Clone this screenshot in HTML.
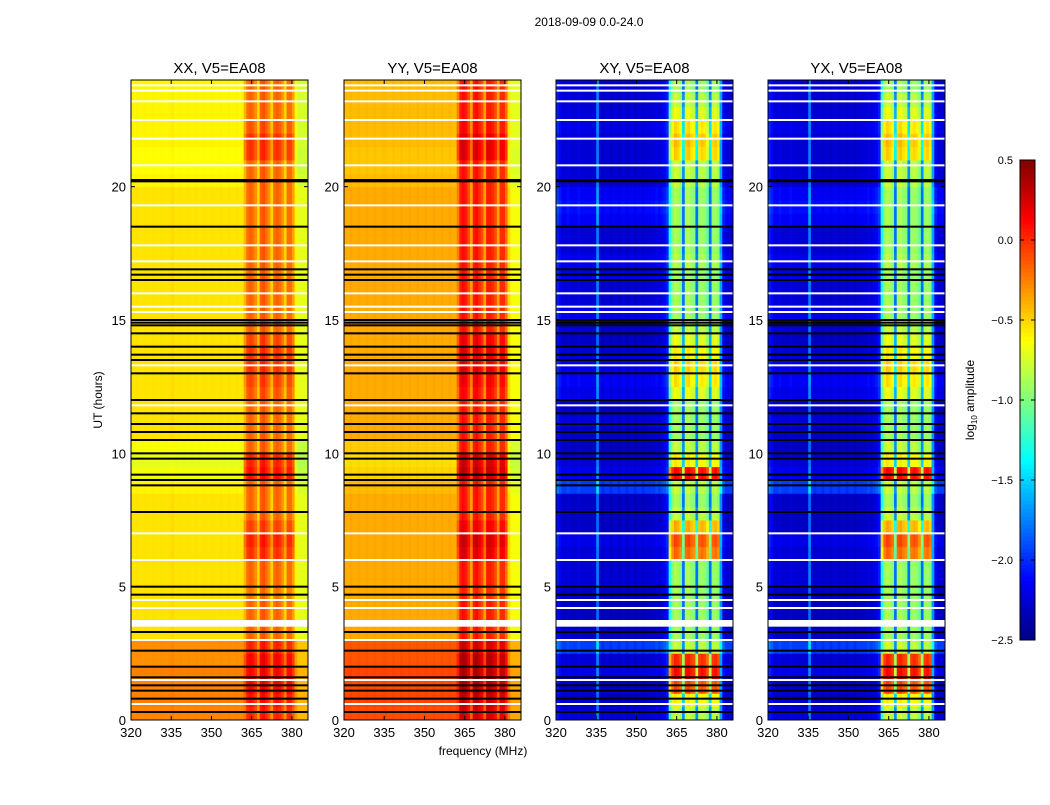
<!DOCTYPE html>
<html><head><meta charset="utf-8"><style>
body{margin:0;background:#fff;}
svg text{font-family:"Liberation Sans","DejaVu Sans",sans-serif;fill:#000;}
</style></head><body>
<svg id="fig" width="1050" height="800" xmlns="http://www.w3.org/2000/svg">
<rect width="1050" height="800" fill="#fff"/>
<text x="589" y="26" font-size="12" text-anchor="middle">2018-09-09 0.0-24.0</text>
<text x="483" y="755" font-size="12" text-anchor="middle">frequency (MHz)</text>
<text transform="translate(102,400) rotate(-90)" font-size="12" text-anchor="middle">UT (hours)</text>
<g id="panels"></g>
<g id="cbar"></g>
</svg>
<script>
// ---- data ----
const panelTitles = ["XX, V5=EA08","YY, V5=EA08","XY, V5=EA08","YX, V5=EA08"];
const xTicks = [320,335,350,365,380];
const yTicks = [0,5,10,15,20];
const cbarTicks = [0.5,0.0,-0.5,-1.0,-1.5,-2.0,-2.5];
// frequency profiles, 1 MHz bins 320..385 (log10 amplitude)
const profXX = [-0.55,-0.55,-0.54,-0.55,-0.55,-0.54,-0.55,-0.55,-0.54,-0.55,-0.55,-0.54,-0.55,-0.55,-0.54,-0.52,-0.55,-0.55,-0.54,-0.55,-0.55,-0.54,-0.55,-0.55,-0.54,-0.55,-0.55,-0.54,-0.55,-0.55,-0.54,-0.55,-0.55,-0.54,-0.55,-0.55,-0.54,-0.55,-0.55,-0.54,-0.55,-0.55,-0.4,-0.2,-0.15,-0.2,-0.3,-0.5,-0.15,-0.1,-0.2,-0.3,-0.5,-0.2,-0.15,-0.2,-0.3,-0.5,-0.2,-0.2,-0.35,-0.6,-0.7,-0.7,-0.7,-0.7];
const profYY = [-0.38,-0.38,-0.36,-0.38,-0.38,-0.36,-0.38,-0.38,-0.36,-0.38,-0.38,-0.36,-0.38,-0.38,-0.36,-0.36,-0.38,-0.38,-0.36,-0.38,-0.38,-0.36,-0.38,-0.38,-0.36,-0.38,-0.38,-0.36,-0.38,-0.38,-0.36,-0.38,-0.38,-0.36,-0.38,-0.38,-0.36,-0.38,-0.38,-0.36,-0.38,-0.38,-0.25,0.05,0.1,0.05,-0.1,-0.35,0.05,0.1,0.0,-0.1,-0.35,0.05,0.05,0.0,-0.1,-0.35,0.0,0.0,-0.2,-0.5,-0.65,-0.65,-0.65,-0.65];
const profXY = [-2.1,-2.2,-2.3,-2.3,-2.25,-2.3,-2.3,-2.3,-2.25,-2.3,-2.3,-2.3,-2.3,-2.3,-2.3,-1.8,-2.3,-2.35,-2.3,-2.3,-2.35,-2.3,-2.3,-2.35,-2.3,-2.3,-2.35,-2.3,-2.3,-2.35,-2.3,-2.3,-2.35,-2.3,-2.3,-2.3,-2.3,-2.25,-2.3,-2.25,-2.2,-2.1,-1.3,-1.0,-0.85,-0.9,-1.0,-1.8,-0.9,-0.85,-0.95,-1.0,-1.8,-0.95,-0.9,-0.95,-1.1,-1.8,-0.95,-0.9,-1.0,-1.7,-2.2,-2.3,-2.3,-2.3];
const profYX = [-2.1,-2.2,-2.3,-2.3,-2.25,-2.3,-2.3,-2.3,-2.25,-2.3,-2.3,-2.3,-2.3,-2.3,-2.3,-1.8,-2.3,-2.35,-2.3,-2.3,-2.35,-2.3,-2.3,-2.35,-2.3,-2.3,-2.35,-2.3,-2.3,-2.35,-2.3,-2.3,-2.35,-2.3,-2.3,-2.3,-2.3,-2.25,-2.3,-2.25,-2.2,-2.1,-1.3,-0.95,-0.85,-0.9,-1.0,-1.8,-0.9,-0.85,-0.95,-1.0,-1.8,-0.95,-0.9,-0.95,-1.1,-1.8,-0.95,-0.9,-1.0,-1.7,-2.2,-2.3,-2.3,-2.3];
// half-hour modulations, 0..23.5 h
const coBg   = [0.28,0.3,0.28,0.3,0.25,0.25,0,0,0,0,0,0,0,0,0,0,0,-0.05,-0.12,-0.15,-0.1,0,0,0,0,0,0,0,0,0,0,0,0,0,0,0,0,0,0,0,-0.05,-0.08,-0.08,-0.05,-0.05,-0.05,-0.05,-0.05];
const coBand = [0.2,0.25,0.3,0.3,0.3,0.2,0,0,0,-0.05,0,0,0.15,0.2,0.1,0,0,0,0.25,0.2,0,0,0,0,0.05,0.1,0.15,0.15,0.1,0,0,0,0,0,0,0,0,0,0,0,0,0,0.15,0.15,0.05,0,0,0];
const crossBg   = [0.05,0.0,0.05,0.1,0.05,0.35,0,0,0,0,0.05,0.05,0.05,0.1,0,0,0,0.35,0.1,0.05,0,0,0.05,0,0.1,0.15,0.1,0.05,0,0.05,0.1,0.05,0.05,0.1,0.1,0.05,0.05,0.15,0.2,0.15,0.05,0.05,0.05,0.05,0.1,0.05,0.05,0.05];
const crossBand = [0.1,0.3,0.8,1.0,0.9,0.1,0,0,0,0,0,0,0.7,0.8,0.5,0.1,0,0.1,1.0,0.3,0.1,0,0,0,0.2,0.35,0.4,0.3,0.2,0.1,0,0,0,0,0.05,0,0,0,0,0,0.1,0.1,0.4,0.45,0.35,0.2,0.1,0];
const blackFlags = [0.3,0.8,1.1,1.3,1.6,2.0,2.6,3.3,4.7,5.0,7.8,8.8,9.0,9.2,9.8,10.0,10.5,10.8,11.1,11.5,12.0,13.0,13.5,13.7,14.0,14.5,14.8,14.9,15.0,16.5,16.7,16.9,18.5,20.2,20.25];
const whiteFlags = [0.6,1.5,3.0,4.2,4.5,6.0,7.0,11.8,13.3,15.3,15.5,16.0,17.2,17.8,19.3,20.8,21.8,22.5,23.2,23.6,23.8];
const whiteBlock = [3.5,3.75];

// ---- layout ----
const panelX = [131,344,556,768], PW = 177, PT = 80, PB = 720;
const fMin = 320, fMax = 386, tMin = 0, tMax = 24;
const NS = "http://www.w3.org/2000/svg";
function xs(p,f){return panelX[p] + (f - fMin)/(fMax - fMin)*PW;}
function ys(t){return PB - (t - tMin)/(tMax - tMin)*(PB - PT);}
function jet(v){
  let x = (v + 2.5)/3; x = Math.max(0, Math.min(1, x));
  const c = (a)=>Math.max(0, Math.min(1, a));
  const r = c(1.5 - Math.abs(4*x - 3)), g = c(1.5 - Math.abs(4*x - 2)), b = c(1.5 - Math.abs(4*x - 1));
  return `rgb(${Math.round(r*255)},${Math.round(g*255)},${Math.round(b*255)})`;
}
function mk(tag, attrs, parent){const e = document.createElementNS(NS, tag); for (const k in attrs) e.setAttribute(k, attrs[k]); parent.appendChild(e); return e;}
const root = document.getElementById('panels');
const profs = [profXX, profYY, profXY, profYX];
for (let p = 0; p < 4; p++){
  const g = mk('g', {}, root);
  
  
  const cross = p >= 2;
  const bg = cross ? crossBg : coBg, band = cross ? crossBand : coBand;
  const prof = profs[p];
  for (let ti = 0; ti < bg.length; ti++){
    const t0 = ti*0.5, t1 = t0 + 0.5;
    for (let fi = 0; fi < prof.length; fi++){
      const f = fMin + fi;
      const inBand = f >= 362 && f <= 380;
      const v = prof[fi] + (inBand ? band[ti] : bg[ti]);
      const x0 = xs(p, f), x1 = xs(p, f + 1);
      const r = mk('rect', {x: x0.toFixed(2), y: ys(t1).toFixed(2), width: (x1 - x0 + 0.4).toFixed(2), height: (ys(t0) - ys(t1) + 0.4).toFixed(2), fill: jet(v)}, g);
      
      
    }
  }
  for (const t of blackFlags){
    const r = mk('rect', {x: panelX[p], y: ys(t) - 1, width: PW, height: 2, fill: '#000'}, g);
    
    
  }
  for (const t of whiteFlags){
    const r = mk('rect', {x: panelX[p], y: ys(t) - 1, width: PW, height: 2, fill: '#fff'}, g);
    
    
  }
  const wb = mk('rect', {x: panelX[p], y: ys(whiteBlock[1]), width: PW, height: ys(whiteBlock[0]) - ys(whiteBlock[1]), fill: '#fff'}, g);
  
  
  const fr = mk('rect', {x: panelX[p], y: PT, width: PW, height: PB - PT, fill: 'none', stroke: '#000', 'stroke-width': 1}, g);
  
  
  const tt = mk('text', {x: panelX[p] + PW/2, y: 73, 'font-size': 15, 'text-anchor': 'middle'}, g);
  tt.textContent = panelTitles[p];
  
  
  for (const f of xTicks){
    const x = xs(p, f);
    mk('line', {x1: x, x2: x, y1: PB, y2: PB - 4, stroke: '#000'}, g);
    mk('line', {x1: x, x2: x, y1: PT, y2: PT + 4, stroke: '#000'}, g);
    const l = mk('text', {x: x, y: PB + 17, 'font-size': 13, 'text-anchor': 'middle'}, g);
    l.textContent = f;
    
    
  }
  for (const t of yTicks){
    const y = ys(t);
    mk('line', {x1: panelX[p], x2: panelX[p] + 4, y1: y, y2: y, stroke: '#000'}, g);
    mk('line', {x1: panelX[p] + PW, x2: panelX[p] + PW - 4, y1: y, y2: y, stroke: '#000'}, g);
    const l = mk('text', {x: panelX[p] - 5, y: y + 5, 'font-size': 13, 'text-anchor': 'end'}, g);
    l.textContent = t;
    
    
  }
}
// colorbar
const cb = document.getElementById('cbar');


const CX = 1020, CW = 15, CT = 160, CB = 640;
const cy = v => CB - (v + 2.5)/3*(CB - CT);
for (let i = 0; i < 120; i++){
  const v0 = -2.5 + i*3/120, v1 = v0 + 3/120;
  mk('rect', {x: CX, y: cy(v1), width: CW, height: cy(v0) - cy(v1) + 0.5, fill: jet((v0 + v1)/2)}, cb);
}
mk('rect', {x: CX, y: CT, width: CW, height: CB - CT, fill: 'none', stroke: '#000'}, cb);
for (const v of cbarTicks){
  const y = cy(v);
  mk('line', {x1: CX, x2: CX + 4, y1: y, y2: y, stroke: '#000'}, cb);
  mk('line', {x1: CX + CW, x2: CX + CW - 4, y1: y, y2: y, stroke: '#000'}, cb);
  const l = mk('text', {x: CX - 7, y: y + 4, 'font-size': 11, 'text-anchor': 'end'}, cb);
  l.textContent = v.toFixed(1).replace('-', '\u2212');
  
  
}
const cl = mk('text', {transform: 'translate(974,400) rotate(-90)', 'font-size': 12, 'text-anchor': 'middle'}, cb);
cl.innerHTML = 'log<tspan font-size="8" dy="3">10</tspan><tspan dy="-3"> amplitude</tspan>';


</script>
</body></html>
